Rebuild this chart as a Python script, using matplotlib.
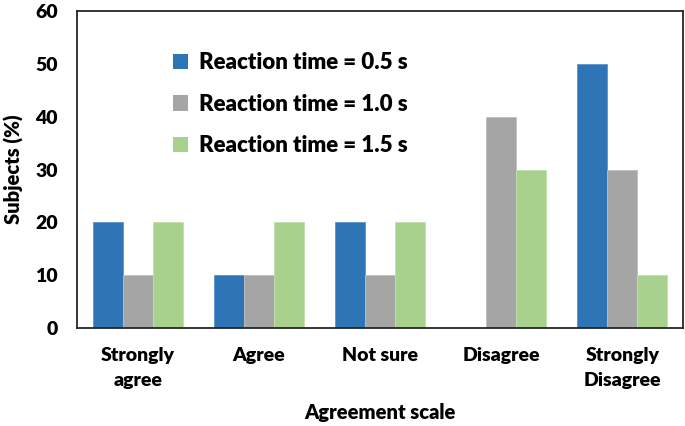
import matplotlib
matplotlib.use("Agg")
import matplotlib.pyplot as plt
import numpy as np
from matplotlib.patches import Patch

categories = ["Strongly\nagree", "Agree", "Not sure", "Disagree", "Strongly\nDisagree"]
series_names = ["Reaction time = 0.5 s", "Reaction time = 1.0 s", "Reaction time = 1.5 s"]
rt_05 = [20, 10, 20, 0, 50]
rt_10 = [10, 10, 10, 40, 30]
rt_15 = [20, 20, 20, 30, 10]
colors = ["#2E75B6", "#A5A5A5", "#A9D18E"]
edges = ["#5B95CC", "#C0C0C0", "#C3E0B0"]

plt.rcParams['font.family'] = ['Lato', 'DejaVu Sans']
plt.rcParams['font.weight'] = 'heavy'

fig = plt.figure(figsize=(6.85, 4.26), dpi=100)
ax = fig.add_axes([0.1124, 0.230, 0.8846, 0.744])

x = np.arange(len(categories))
w = 0.248
for i, vals in enumerate([rt_05, rt_10, rt_15]):
    ax.bar(x + (i - 1) * w, vals, width=w, color=colors[i], edgecolor=edges[i], linewidth=0.6)

ax.set_xlim(-0.5, len(categories) - 0.5)
ax.set_ylim(0, 60)
ax.set_yticks(range(0, 61, 10))
ax.set_xticks(x)
ax.set_xticklabels(categories, fontsize=14, fontweight='heavy', linespacing=1.55)
ax.tick_params(axis='both', length=0, labelsize=14)
ax.tick_params(axis='x', pad=14)
ax.tick_params(axis='y', pad=14)
for lbl in ax.get_yticklabels():
    lbl.set_fontweight('heavy')
for s in ax.spines.values():
    s.set_color('#262626')
    s.set_linewidth(1.3)

ax.set_ylabel("Subjects (%)", fontsize=14.5, fontweight='heavy', labelpad=8)
ax.set_xlabel("Agreement scale", fontsize=14.5, fontweight='heavy', labelpad=10)

handles = [Patch(facecolor=c, edgecolor='none') for c in colors]
ax.legend(handles, series_names, loc='upper left', bbox_to_anchor=(0.158, 0.87),
          frameon=False, prop={'size': 16, 'weight': 'heavy'}, handlelength=0.7,
          handleheight=0.7, handletextpad=0.5, labelspacing=0.92, borderpad=0, borderaxespad=0)

fig.savefig("out.png", dpi=100)
